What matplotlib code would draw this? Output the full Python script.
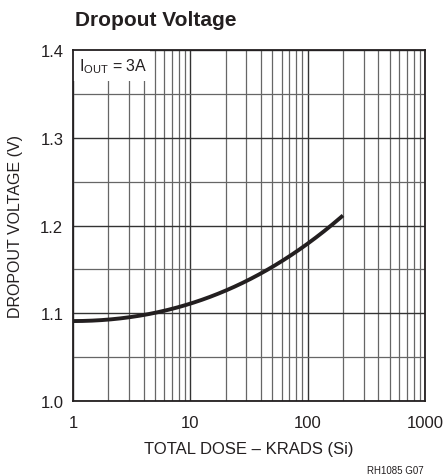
import matplotlib
matplotlib.use('Agg')
import matplotlib.pyplot as plt
from matplotlib.patches import Rectangle
import numpy as np

plt.rcParams['font.family'] = ['Liberation Sans Narrow', 'Liberation Sans', 'DejaVu Sans']

# 曲線資料
dose = [1, 2, 4, 10, 20, 50, 100, 200]
vdrop = [1.091, 1.093, 1.099, 1.109, 1.128, 1.151, 1.181, 1.211]

x_ticks = [1, 10, 100, 1000]
x_labels = ['1', '10', '100', '1000']
y_ticks = [1.0, 1.1, 1.2, 1.3, 1.4]
y_labels = ['1.0', '1.1', '1.2', '1.3', '1.4']

fig = plt.figure(figsize=(4.45, 4.77), dpi=100)
ax = fig.add_axes([0.164, 0.157, 0.791, 0.736])

# 平滑曲線 (log x 上做三次插值)
lx = np.log10(dose)
coef = np.polyfit(lx, vdrop, 3)
xs = np.linspace(lx[0], lx[-1], 200)
ax.plot(10 ** xs, np.polyval(coef, xs), color='#231f20', lw=2.8, zorder=3,
        solid_capstyle='butt')

ax.set_xscale('log')
ax.set_xlim(1, 1000)
ax.set_ylim(1.0, 1.4)
ax.set_xticks(x_ticks)
ax.set_xticklabels(x_labels)
ax.set_yticks(y_ticks)
ax.set_yticklabels(y_labels)
ax.set_yticks(np.arange(1.05, 1.4, 0.1), minor=True)
ax.tick_params(which='both', length=0, labelsize=12, colors='#231f20')
ax.tick_params(axis='x', pad=10)
ax.tick_params(axis='y', pad=7)
ax.set_axisbelow(True)
ax.grid(True, which='major', color='#333333', lw=1.0)
ax.grid(True, which='minor', color='#666666', lw=0.9)
for s in ax.spines.values():
    s.set_color('#231f20')
    s.set_linewidth(1.3)

# 標籤框
ax.add_patch(Rectangle((1, 1.365), 3.55, 0.035, facecolor='white',
                       edgecolor='none', zorder=1))
ax.text(1.12, 1.382, r'I$_{\mathregular{OUT}}$ = 3A', fontsize=11.5,
        va='center', ha='left', color='#231f20', zorder=4)

ax.set_xlabel('TOTAL DOSE – KRADS (Si)', fontsize=12, color='#231f20', labelpad=8)
ax.set_ylabel('DROPOUT VOLTAGE (V)', fontsize=11.5, color='#231f20', labelpad=12)

fig.text(0.168, 0.957, 'Dropout Voltage', fontsize=15, fontweight='bold',
         color='#231f20', va='center', ha='left')
fig.text(0.952, 0.013, 'RH1085 G07', fontsize=7, color='#231f20',
         ha='right', va='center')

fig.savefig('out.png', dpi=100)
